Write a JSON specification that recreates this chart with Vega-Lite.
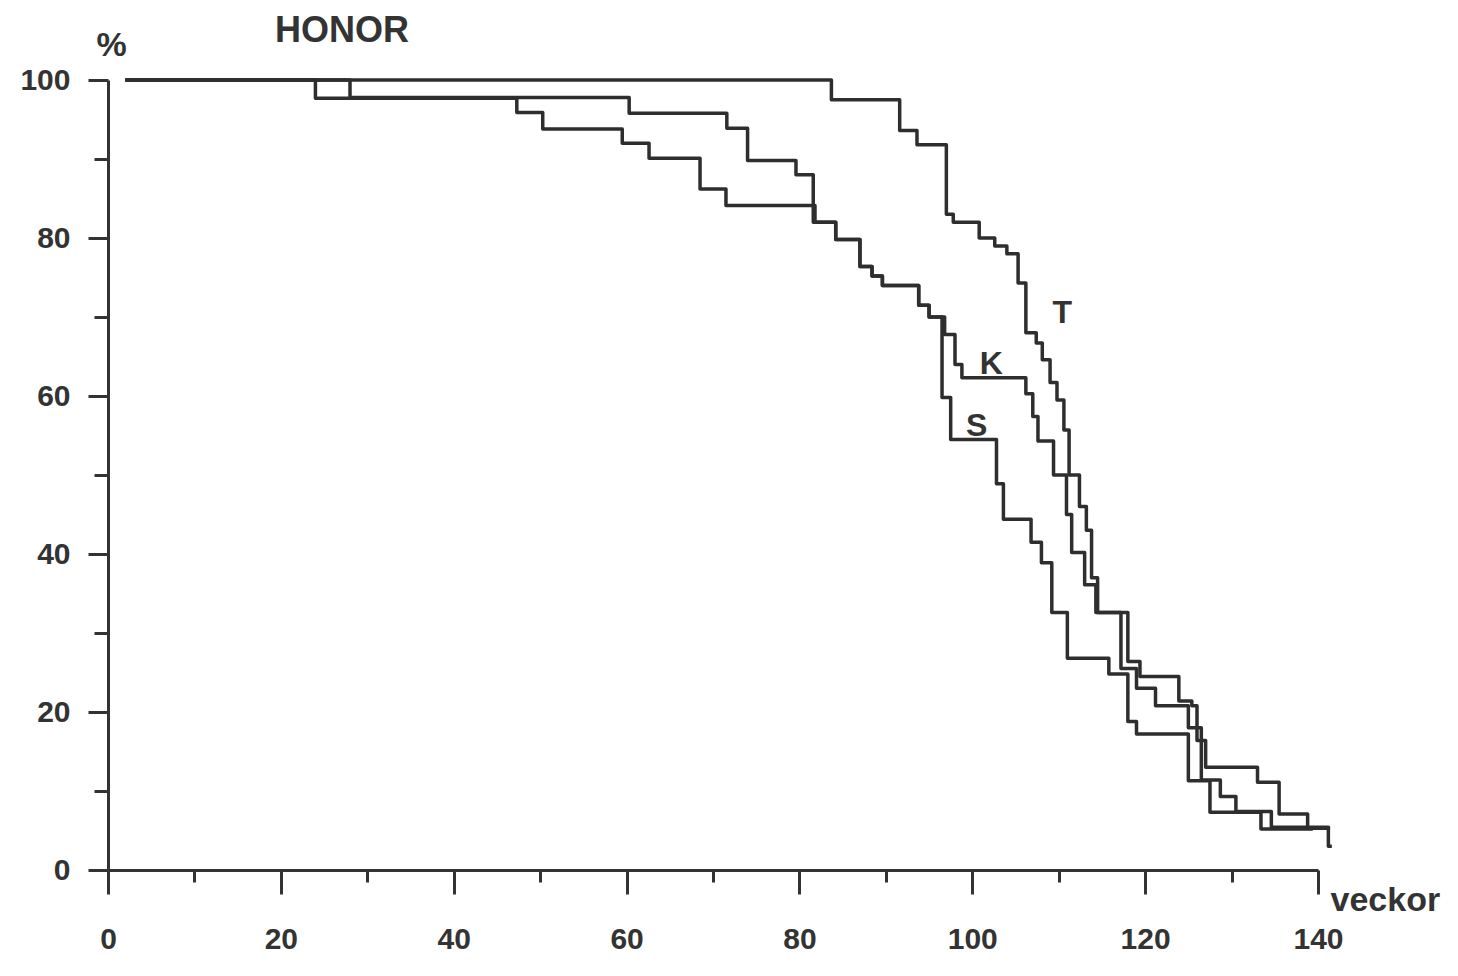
{
  "$schema": "https://vega.github.io/schema/vega-lite/v6.json",
  "width": 1210,
  "height": 790,
  "autosize": {"type": "none"},
  "padding": {"left": 108, "top": 80, "right": 140, "bottom": 106},
  "background": "white",
  "title": {
    "text": "HONOR",
    "anchor": "start",
    "frame": "group",
    "dx": 167,
    "offset": -22,
    "fontSize": 36,
    "font": "Liberation Sans",
    "fontWeight": "bold",
    "color": "#333"
  },
  "datasets": {
    "curves": [
      {"curve": "T", "week": 2, "pct": 100},
      {"curve": "T", "week": 83.7, "pct": 97.5},
      {"curve": "T", "week": 91.6, "pct": 93.6},
      {"curve": "T", "week": 93.6, "pct": 91.8},
      {"curve": "T", "week": 97, "pct": 83},
      {"curve": "T", "week": 97.8, "pct": 82},
      {"curve": "T", "week": 100.8, "pct": 80},
      {"curve": "T", "week": 102.6, "pct": 79},
      {"curve": "T", "week": 104, "pct": 78},
      {"curve": "T", "week": 105.3, "pct": 74.3},
      {"curve": "T", "week": 106.2, "pct": 68},
      {"curve": "T", "week": 107.4, "pct": 66.7},
      {"curve": "T", "week": 108.1, "pct": 64.6},
      {"curve": "T", "week": 109, "pct": 61.7},
      {"curve": "T", "week": 109.8, "pct": 59.5},
      {"curve": "T", "week": 110.6, "pct": 55.7},
      {"curve": "T", "week": 111.2, "pct": 50},
      {"curve": "T", "week": 112.4, "pct": 46},
      {"curve": "T", "week": 113.2, "pct": 43},
      {"curve": "T", "week": 113.8, "pct": 37},
      {"curve": "T", "week": 114.5, "pct": 32.6},
      {"curve": "T", "week": 118, "pct": 26.4},
      {"curve": "T", "week": 119.4, "pct": 24.5},
      {"curve": "T", "week": 123.9, "pct": 21.4},
      {"curve": "T", "week": 125.4, "pct": 20.8},
      {"curve": "T", "week": 126, "pct": 16.4},
      {"curve": "T", "week": 127, "pct": 13},
      {"curve": "T", "week": 133, "pct": 11.1},
      {"curve": "T", "week": 135.5, "pct": 7.1},
      {"curve": "T", "week": 138.8, "pct": 5.3},
      {"curve": "T", "week": 141.4, "pct": 5.3},
      {"curve": "K", "week": 2, "pct": 100},
      {"curve": "K", "week": 28, "pct": 97.8},
      {"curve": "K", "week": 60.3, "pct": 95.8},
      {"curve": "K", "week": 71.6, "pct": 93.9},
      {"curve": "K", "week": 74, "pct": 89.8},
      {"curve": "K", "week": 79.6, "pct": 88},
      {"curve": "K", "week": 81.6, "pct": 82},
      {"curve": "K", "week": 84.2, "pct": 79.8},
      {"curve": "K", "week": 87, "pct": 76.4},
      {"curve": "K", "week": 88.4, "pct": 75.2},
      {"curve": "K", "week": 89.6, "pct": 74},
      {"curve": "K", "week": 93.8, "pct": 71.5},
      {"curve": "K", "week": 95, "pct": 70},
      {"curve": "K", "week": 96.8, "pct": 67.8},
      {"curve": "K", "week": 98, "pct": 64},
      {"curve": "K", "week": 98.8, "pct": 62.3},
      {"curve": "K", "week": 106.2, "pct": 60.3},
      {"curve": "K", "week": 107, "pct": 57.4},
      {"curve": "K", "week": 107.6, "pct": 54.3},
      {"curve": "K", "week": 109.4, "pct": 50},
      {"curve": "K", "week": 110.9, "pct": 45},
      {"curve": "K", "week": 111.5, "pct": 40.2},
      {"curve": "K", "week": 113, "pct": 36.1},
      {"curve": "K", "week": 114.3, "pct": 32.6},
      {"curve": "K", "week": 117.2, "pct": 25.5},
      {"curve": "K", "week": 119, "pct": 23},
      {"curve": "K", "week": 121.2, "pct": 20.8},
      {"curve": "K", "week": 125, "pct": 18},
      {"curve": "K", "week": 126.5, "pct": 11.4},
      {"curve": "K", "week": 128.7, "pct": 9.3},
      {"curve": "K", "week": 130.5, "pct": 7.4},
      {"curve": "K", "week": 134.6, "pct": 5.4},
      {"curve": "K", "week": 141.2, "pct": 3},
      {"curve": "K", "week": 141.6, "pct": 3},
      {"curve": "S", "week": 2, "pct": 100},
      {"curve": "S", "week": 24, "pct": 97.7},
      {"curve": "S", "week": 47.3, "pct": 95.9},
      {"curve": "S", "week": 50.3, "pct": 93.8},
      {"curve": "S", "week": 59.5, "pct": 92},
      {"curve": "S", "week": 62.6, "pct": 90.1},
      {"curve": "S", "week": 68.5, "pct": 86.2},
      {"curve": "S", "week": 71.5, "pct": 84.1},
      {"curve": "S", "week": 81.8, "pct": 82},
      {"curve": "S", "week": 84.2, "pct": 79.8},
      {"curve": "S", "week": 87, "pct": 76.4},
      {"curve": "S", "week": 88.4, "pct": 75.2},
      {"curve": "S", "week": 89.6, "pct": 74},
      {"curve": "S", "week": 93.8, "pct": 71.5},
      {"curve": "S", "week": 95, "pct": 70},
      {"curve": "S", "week": 96.5, "pct": 59.8},
      {"curve": "S", "week": 97.5, "pct": 54.5},
      {"curve": "S", "week": 102.8, "pct": 48.9},
      {"curve": "S", "week": 103.6, "pct": 44.4},
      {"curve": "S", "week": 106.8, "pct": 41.5},
      {"curve": "S", "week": 108, "pct": 38.9},
      {"curve": "S", "week": 109.2, "pct": 32.6},
      {"curve": "S", "week": 111, "pct": 26.8},
      {"curve": "S", "week": 115.8, "pct": 24.8},
      {"curve": "S", "week": 118, "pct": 18.8},
      {"curve": "S", "week": 119, "pct": 17.2},
      {"curve": "S", "week": 125, "pct": 11.3},
      {"curve": "S", "week": 127.5, "pct": 7.3},
      {"curve": "S", "week": 133.4, "pct": 5.2},
      {"curve": "S", "week": 139.4, "pct": 5.2}
    ],
    "labels": [
      {"curve": "T", "week": 110.4, "pct": 70.5},
      {"curve": "K", "week": 102.2, "pct": 64},
      {"curve": "S", "week": 100.5, "pct": 56.2}
    ]
  },
  "layer": [
    {
      "data": {"name": "curves"},
      "mark": {"type": "line", "interpolate": "step-after", "strokeWidth": 3.5, "color": "#2e2e2e", "strokeJoin": "round"},
      "encoding": {
        "x": {
          "field": "week",
          "type": "quantitative",
          "scale": {"domain": [0, 140], "nice": false, "zero": false},
          "axis": {
            "title": "veckor",
            "titleX": 1222,
            "titleY": 30,
            "titleAlign": "left",
            "titleBaseline": "middle",
            "titleFont": "Liberation Sans",
            "titleFontSize": 34,
            "titleFontWeight": "bold",
            "titleColor": "#333",
            "values": [0, 10, 20, 30, 40, 50, 60, 70, 80, 90, 100, 110, 120, 130, 140],
            "labelExpr": "datum.value % 20 == 0 ? datum.label : ''",
            "tickSize": {"condition": {"test": "datum.value % 20 == 0", "value": 24}, "value": 12},
            "tickWidth": 3,
            "tickColor": "#333",
            "domainWidth": 3,
            "domainColor": "#333",
            "grid": false,
            "labelPadding": 30,
            "labelFont": "Liberation Sans",
            "labelFontSize": 30,
            "labelFontWeight": "bold",
            "labelColor": "#333",
            "labelFlush": false,
            "labelOverlap": false
          }
        },
        "y": {
          "field": "pct",
          "type": "quantitative",
          "scale": {"domain": [0, 100], "nice": false},
          "axis": {
            "title": "%",
            "titleAngle": 0,
            "titleX": 3,
            "titleY": -35,
            "titleAlign": "center",
            "titleBaseline": "middle",
            "titleFont": "Liberation Sans",
            "titleFontSize": 34,
            "titleFontWeight": "bold",
            "titleColor": "#333",
            "values": [0, 10, 20, 30, 40, 50, 60, 70, 80, 90, 100],
            "labelExpr": "datum.value % 20 == 0 ? datum.label : ''",
            "tickSize": {"condition": {"test": "datum.value % 20 == 0", "value": 20}, "value": 14},
            "tickWidth": 3,
            "tickColor": "#333",
            "domainWidth": 3,
            "domainColor": "#333",
            "grid": false,
            "labelPadding": 18,
            "labelFont": "Liberation Sans",
            "labelFontSize": 30,
            "labelFontWeight": "bold",
            "labelColor": "#333",
            "labelFlush": false,
            "labelOverlap": false
          }
        },
        "detail": {"field": "curve", "type": "nominal"}
      }
    },
    {
      "data": {"name": "labels"},
      "mark": {"type": "text", "font": "Liberation Sans", "fontSize": 32, "fontWeight": "bold", "color": "#333", "align": "center", "baseline": "middle"},
      "encoding": {
        "x": {"field": "week", "type": "quantitative"},
        "y": {"field": "pct", "type": "quantitative"},
        "text": {"field": "curve", "type": "nominal"}
      }
    }
  ],
  "config": {"view": {"stroke": null}}
}
